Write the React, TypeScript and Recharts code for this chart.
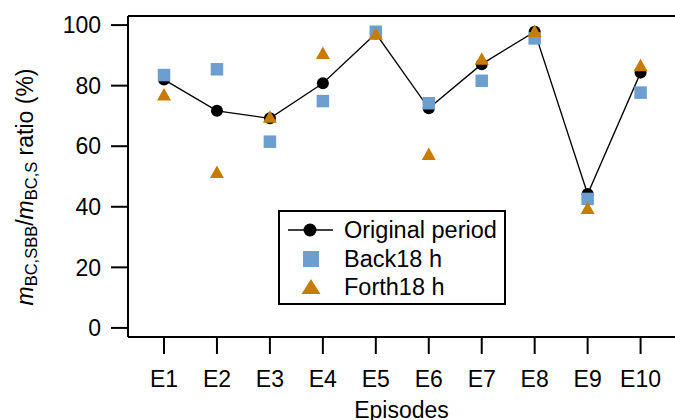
import React from 'react';
import { ComposedChart, Scatter, XAxis, YAxis, Legend, ReferenceLine } from 'recharts';

const episodes = ['E1', 'E2', 'E3', 'E4', 'E5', 'E6', 'E7', 'E8', 'E9', 'E10'];
const episodeIndex = [1, 2, 3, 4, 5, 6, 7, 8, 9, 10];
const originalPeriod = [82.0, 71.7, 69.2, 80.8, 97.2, 72.5, 87.1, 97.8, 44.2, 84.3];
const back18h = [83.5, 85.4, 61.5, 74.9, 97.8, 74.2, 81.6, 95.6, 42.6, 77.7];
const forth18h = [77.2, 51.6, 69.8, 90.9, 97.2, 57.5, 89.0, 98.1, 39.7, 86.8];
const yTicks = [0, 20, 40, 60, 80, 100];

const rows = episodes.map((label, i) => ({
  x: episodeIndex[i],
  label,
  orig: originalPeriod[i],
  back: back18h[i],
  forth: forth18h[i],
}));

const FONT = '"Liberation Sans", Arial, Helvetica, sans-serif';
const BLUE = '#6c9fd0';
const ORANGE = '#c77c00';
const TICK_FS = 23;
const LEGEND_FS = 23.5;

const CircleShape = (props: any) => {
  const { cx, cy } = props;
  if (cx == null || cy == null) return null;
  return <circle cx={cx} cy={cy} r={6} fill="#000" />;
};

const SquareShape = (props: any) => {
  const { cx, cy } = props;
  if (cx == null || cy == null) return null;
  const s = 12.5;
  return <rect x={cx - s / 2} y={cy - s / 2} width={s} height={s} fill={BLUE} />;
};

const TriangleShape = (props: any) => {
  const { cx, cy } = props;
  if (cx == null || cy == null) return null;
  const w = 14;
  const h = 12.5;
  const pts = `${cx},${cy - h / 2} ${cx - w / 2},${cy + h / 2} ${cx + w / 2},${cy + h / 2}`;
  return <polygon points={pts} fill={ORANGE} />;
};

const LegendBox = () => (
  <svg width={228} height={95} style={{ display: 'block' }}>
    <rect x={1} y={1} width={226} height={93} fill="#fff" stroke="#000" strokeWidth={2} />
    <line x1={10} y1={20} x2={55} y2={20} stroke="#000" strokeWidth={1.3} />
    <circle cx={32} cy={20} r={6.5} fill="#000" />
    <text x={66} y={27.5} fontSize={LEGEND_FS} fontFamily={FONT} fill="#000">Original period</text>
    <rect x={25} y={41} width={16} height={16} fill={BLUE} />
    <text x={66} y={57} fontSize={LEGEND_FS} fontFamily={FONT} fill="#000">Back18 h</text>
    <polygon points="33,69 23.5,84 42.5,84" fill={ORANGE} />
    <text x={66} y={84.5} fontSize={LEGEND_FS} fontFamily={FONT} fill="#000">Forth18 h</text>
  </svg>
);

const YLabel = () => (
  <text
    transform="rotate(-90 33 187)"
    x={33}
    y={187}
    textAnchor="middle"
    fontSize={23}
    fontFamily={FONT}
    fill="#000"
  >
    <tspan fontStyle="italic">m</tspan>
    <tspan fontSize={16.5} dy={4}>BC,SBB</tspan>
    <tspan dy={-4}>/</tspan>
    <tspan fontStyle="italic">m</tspan>
    <tspan fontSize={16.5} dy={4}>BC,S</tspan>
    <tspan dy={-4}> ratio (%)</tspan>
  </text>
);

const XLabel = () => (
  <text x={401.5} y={418} textAnchor="middle" fontSize={TICK_FS} fontFamily={FONT} fill="#000">
    Episodes
  </text>
);

export default function App() {
  return (
    <div style={{ position: 'absolute', left: 0, top: 0, width: 675, height: 420, background: '#fff', fontFamily: FONT }}>
      <ComposedChart
        width={675}
        height={420}
        data={rows}
        margin={{ top: 16, right: 0, bottom: 23, left: 28 }}
      >
        <XAxis
          dataKey="x"
          type="number"
          domain={[0.32, 10.65]}
          ticks={episodeIndex}
          allowDataOverflow
          tickFormatter={(v: number) => episodes[episodeIndex.indexOf(v)] ?? ''}
          height={60}
          tickSize={17}
          tickMargin={17}
          axisLine={{ stroke: '#000', strokeWidth: 2 }}
          tickLine={{ stroke: '#000', strokeWidth: 2 }}
          tick={{ fontSize: TICK_FS, fill: '#000', fontFamily: FONT }}
          interval={0}
          label={{ content: () => <XLabel /> }}
        />
        <YAxis
          type="number"
          domain={[-3, 103]}
          ticks={yTicks}
          allowDataOverflow
          width={100}
          tickSize={17}
          tickMargin={10}
          axisLine={{ stroke: '#000', strokeWidth: 2 }}
          tickLine={{ stroke: '#000', strokeWidth: 2 }}
          tick={{ fontSize: TICK_FS, fill: '#000', fontFamily: FONT }}
          interval={0}
          label={{ content: () => <YLabel /> }}
        />
        <ReferenceLine y={103} stroke="#000" strokeWidth={2} />
        <Scatter
          dataKey="orig"
          name="Original period"
          line={{ stroke: '#000', strokeWidth: 1.3 }}
          shape={CircleShape}
          isAnimationActive={false}
        />
        <Scatter dataKey="back" name="Back18 h" shape={SquareShape} isAnimationActive={false} />
        <Scatter dataKey="forth" name="Forth18 h" shape={TriangleShape} isAnimationActive={false} />
        <Legend
          layout="vertical"
          align="center"
          verticalAlign="middle"
          content={() => <LegendBox />}
          wrapperStyle={{ left: 278, top: 210, width: 228, height: 95 }}
        />
      </ComposedChart>
    </div>
  );
}
